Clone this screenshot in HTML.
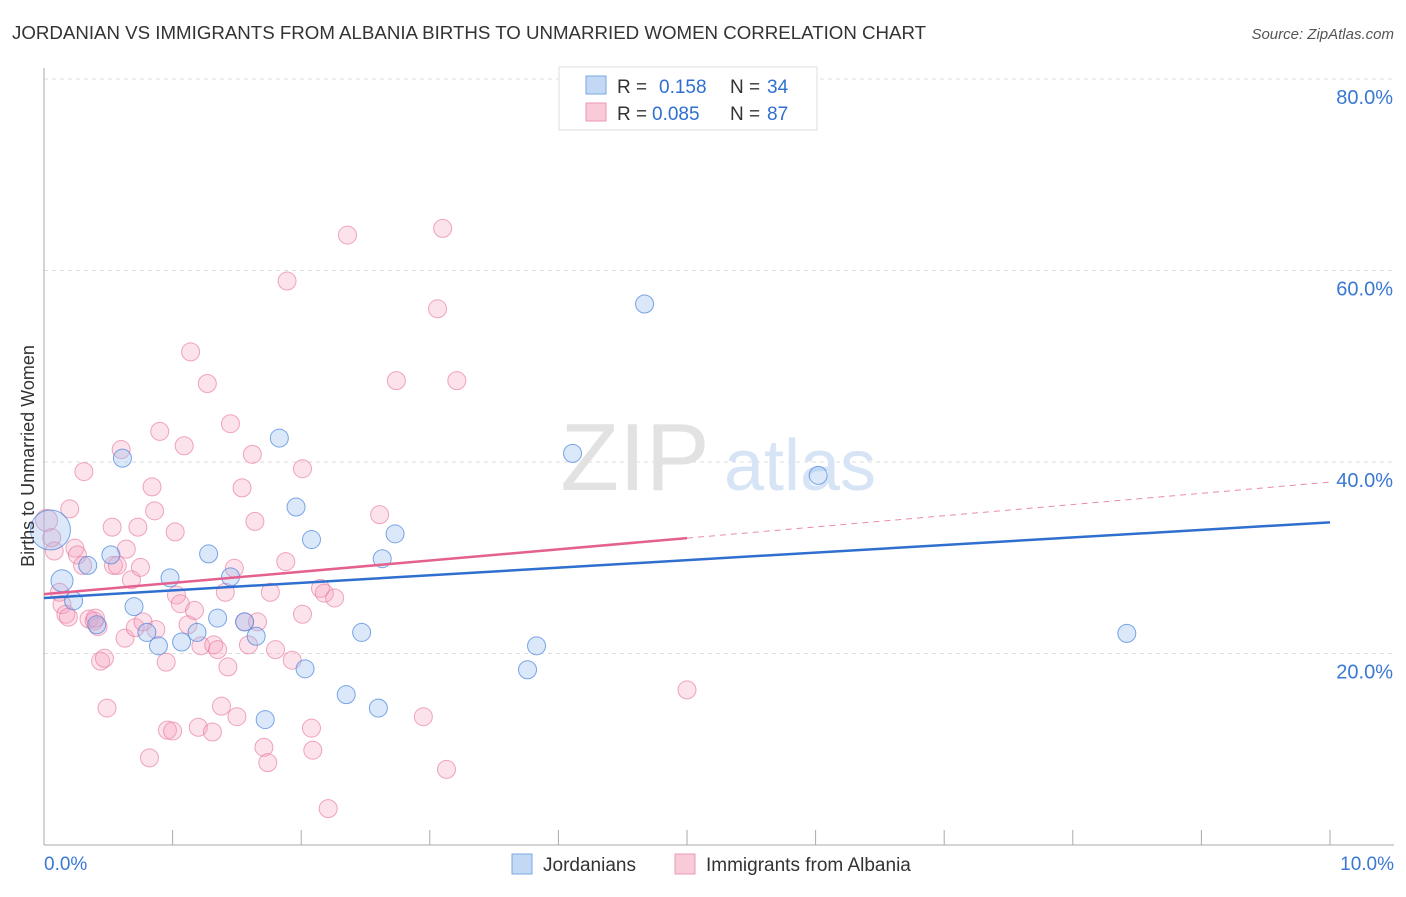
<!DOCTYPE html>
<html><head><meta charset="utf-8"><style>
body{margin:0;background:#fff;font-family:"Liberation Sans",sans-serif}
text{font-family:"Liberation Sans",sans-serif}
</style></head><body>
<svg id="chart" width="1406" height="892" xmlns="http://www.w3.org/2000/svg">
<text x="12" y="39" font-size="18.7" fill="#333">JORDANIAN VS IMMIGRANTS FROM ALBANIA BIRTHS TO UNMARRIED WOMEN CORRELATION CHART</text>
<text x="1394" y="39" font-size="15" fill="#555" text-anchor="end" font-style="italic">Source: ZipAtlas.com</text>
<g id="grid"></g>
<g>
<text x="635" y="490" font-size="96" fill="#e2e2e2" text-anchor="middle" font-family="Liberation Serif">ZIP</text>
<text x="800" y="490" font-size="72" fill="#d6e4f6" text-anchor="middle">atlas</text>
</g>
<g id="points"></g>
<g id="lines"></g>
<text transform="translate(34,456) rotate(-90)" font-size="18" fill="#333" text-anchor="middle">Births to Unmarried Women</text>
<g>
<rect x="559" y="67" width="258" height="63" fill="#fff" stroke="#ddd"/>
<rect x="586" y="76" width="20" height="18" fill="#c3d8f5" stroke="#7aa7e0"/>
<rect x="586" y="103" width="20" height="18" fill="#f9cbd8" stroke="#ec9ab5"/>
<text x="617" y="93" font-size="19" fill="#333">R = </text><text x="659" y="93" font-size="19" fill="#2f6fd0">0.158</text>
<text x="730" y="93" font-size="19" fill="#333">N = </text><text x="767" y="93" font-size="19" fill="#2f6fd0">34</text>
<text x="617" y="120" font-size="19" fill="#333">R = </text><text x="652" y="120" font-size="19" fill="#2f6fd0">0.085</text>
<text x="730" y="120" font-size="19" fill="#333">N = </text><text x="767" y="120" font-size="19" fill="#2f6fd0">87</text>
</g>
<g>
<rect x="512" y="854" width="20" height="20" fill="#c3d8f5" stroke="#7aa7e0"/>
<text x="543" y="871" font-size="19" fill="#333">Jordanians</text>
<rect x="675" y="854" width="20" height="20" fill="#f9cbd8" stroke="#ec9ab5"/>
<text x="706" y="871" font-size="19" fill="#333">Immigrants from Albania</text>
</g>
</svg>
<script>
const xTicks=[0,1,2,3,4,5,6,7,8,9,10];
const yTicks=[20,40,60,80];
const blueX=[0.05,0.14,0.23,0.34,0.41,0.52,0.61,0.70,0.80,0.89,0.98,1.07,1.19,1.28,1.35,1.45,1.56,1.65,1.72,1.83,1.96,2.03,2.08,2.35,2.47,2.60,2.63,2.73,3.76,3.83,4.11,4.67,6.02,8.42];
const blueY=[32.9,27.6,25.5,29.2,23.0,30.3,40.4,24.9,22.2,20.8,27.9,21.2,22.2,30.4,23.7,28.0,23.3,21.8,13.1,42.5,35.3,18.4,31.9,15.7,22.2,14.3,29.9,32.5,18.3,20.8,40.9,56.5,38.6,22.1];
const pinkX=[0.02,0.06,0.08,0.20,0.31,0.24,0.26,0.30,0.12,0.14,0.17,0.19,0.35,0.39,0.42,0.40,0.44,0.47,0.49,0.53,0.54,0.57,0.60,0.64,0.63,0.68,0.71,0.73,0.77,0.75,0.82,0.84,0.86,0.87,0.90,0.95,0.96,1.00,1.02,1.03,1.06,1.09,1.12,1.14,1.17,1.20,1.22,1.27,1.31,1.32,1.35,1.38,1.41,1.43,1.45,1.48,1.50,1.54,1.56,1.59,1.62,1.64,1.66,1.71,1.74,1.76,1.80,1.88,1.89,1.93,2.01,2.01,2.08,2.09,2.15,2.18,2.21,2.26,2.36,2.61,2.74,2.95,3.06,3.10,3.13,3.21,5.00];
const pinkY=[33.9,32.1,30.7,35.1,39.0,31.0,30.3,29.2,26.4,25.1,24.1,23.8,23.6,23.4,22.8,23.7,19.2,19.5,14.3,33.2,29.2,29.2,41.3,30.9,21.6,27.7,22.7,33.2,23.3,29.0,9.1,37.4,34.9,22.5,43.2,19.1,12.0,11.9,32.7,26.1,25.2,41.7,23.0,51.5,24.5,12.3,20.8,48.2,11.8,20.9,20.4,14.5,26.4,18.6,44.0,28.9,13.4,37.3,23.3,20.9,40.8,33.8,23.3,10.2,8.6,26.4,20.4,29.6,58.9,19.3,39.3,24.1,12.2,9.9,26.8,26.3,3.8,25.8,63.7,34.5,48.5,13.4,56.0,64.4,7.9,48.5,16.2];
const blueTrend=[25.8,33.7];
const pinkTrend=[26.2,37.9];
const pinkSolidEnd=5.0;
const NS="http://www.w3.org/2000/svg";
const sx=v=>44+v*128.6, sy=v=>845-v*9.575;
function mk(tag,attrs,parent){const e=document.createElementNS(NS,tag);for(const k in attrs)e.setAttribute(k,attrs[k]);parent.appendChild(e);return e;}
const grid=document.getElementById('grid');
yTicks.forEach(t=>{
 const l=mk('line',{x1:44,x2:1394,y1:sy(t),y2:sy(t),stroke:'#ddd','stroke-dasharray':'4,4'},grid);
 
 
 const tx=mk('text',{x:1393,y:sy(t)+25,'font-size':20,fill:'#3a78d4','text-anchor':'end'},grid);
 tx.textContent=t.toFixed(1)+'%';
 
 
});
const ax=mk('line',{x1:44,x2:44,y1:68,y2:845,stroke:'#aaa'},grid);


const bx=mk('line',{x1:44,x2:1394,y1:845,y2:845,stroke:'#aaa'},grid);


xTicks.forEach(t=>{
 if(t>0){const l=mk('line',{x1:sx(t),x2:sx(t),y1:830,y2:845,stroke:'#aaa'},grid);
 
 }
});
[[0,'0.0%','start',44],[10,'10.0%','end',1394]].forEach(a=>{
 const tx=mk('text',{x:a[3],y:870,'font-size':19,fill:'#3a78d4','text-anchor':a[2]},grid);
 tx.textContent=a[1];
 
 
});
const pts=document.getElementById('points');
pinkX.forEach((x,i)=>{
 const c=mk('circle',{cx:sx(x),cy:sy(pinkY[i]),r:i==0?11:9,fill:'rgba(244,160,188,0.3)',stroke:'rgba(232,120,160,0.65)','stroke-width':1},pts);
 
 
});
blueX.forEach((x,i)=>{
 const c=mk('circle',{cx:sx(x),cy:sy(blueY[i]),r:i==0?20:(i==1?11:9),fill:'rgba(150,190,240,0.35)',stroke:'rgba(70,130,220,0.7)','stroke-width':1},pts);
 
 
});
const lines=document.getElementById('lines');
const b=mk('line',{x1:sx(0),y1:sy(blueTrend[0]),x2:sx(10),y2:sy(blueTrend[1]),stroke:'#2f6fd0','stroke-width':2.5},lines);


const pm=pinkTrend[0]+(pinkTrend[1]-pinkTrend[0])*pinkSolidEnd/10;
const p1=mk('line',{x1:sx(0),y1:sy(pinkTrend[0]),x2:sx(pinkSolidEnd),y2:sy(pm),stroke:'#e4608e','stroke-width':2.5},lines);


const p2=mk('line',{x1:sx(pinkSolidEnd),y1:sy(pm),x2:sx(10),y2:sy(pinkTrend[1]),stroke:'#e88aaa','stroke-width':1,'stroke-dasharray':'6,5'},lines);


</script>
</body></html>
